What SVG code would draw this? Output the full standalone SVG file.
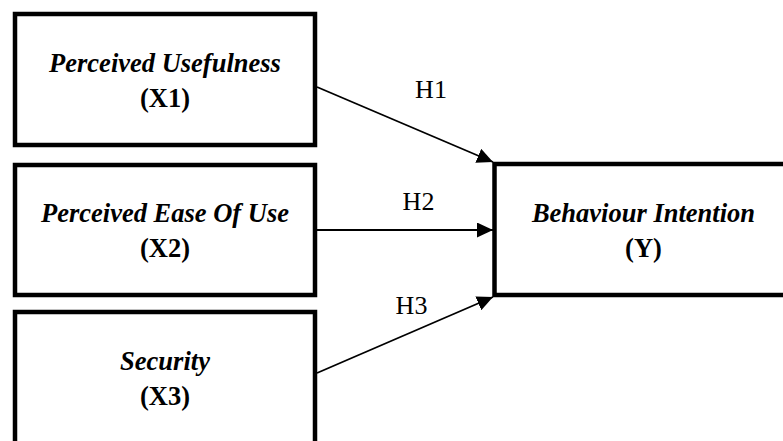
<svg xmlns="http://www.w3.org/2000/svg" width="783" height="441" viewBox="0 0 783 441">
<style>
.box{fill:#fff;stroke:#000;stroke-width:4.5}
.t{font-family:"Liberation Serif","Times New Roman",serif;font-size:26.5px;font-weight:700;text-anchor:middle;fill:#000}
.ti{font-style:italic}
.h{font-family:"Liberation Serif","Times New Roman",serif;font-size:26px;fill:#000;text-anchor:middle}
.c{stroke:#000;stroke-width:1.8;fill:none}
</style>
<defs>
<marker id="arr" markerUnits="userSpaceOnUse" markerWidth="17" markerHeight="15" refX="16" refY="7.5" orient="auto">
<path d="M0,0 L16,7.5 L0,15 Z" fill="#000"/>
</marker>
</defs>
<rect width="783" height="441" fill="#fff"/>
<g id="x1">
<rect class="box" x="15" y="14" width="300" height="131"/>
<text class="t ti" x="165" y="72">Perceived Usefulness</text>
<text class="t" x="165" y="107">(X1)</text>
</g>
<g id="x2">
<rect class="box" x="15" y="165" width="300" height="130"/>
<text class="t ti" x="165" y="222">Perceived Ease Of Use</text>
<text class="t" x="165" y="257">(X2)</text>
</g>
<g id="x3">
<rect class="box" x="15" y="312" width="300" height="140"/>
<text class="t ti" x="165" y="370">Security</text>
<text class="t" x="165" y="405">(X3)</text>
</g>
<g id="y">
<rect class="box" x="494.5" y="164" width="300" height="131"/>
<text class="t ti" x="643.5" y="222">Behaviour Intention</text>
<text class="t" x="643.5" y="257">(Y)</text>
</g>
<g id="connectors">
<line class="c" x1="317" y1="87" x2="493" y2="162" marker-end="url(#arr)"/>
<line class="c" x1="317" y1="230" x2="493" y2="230" marker-end="url(#arr)"/>
<line class="c" x1="317" y1="373" x2="493" y2="297" marker-end="url(#arr)"/>
<text class="h" x="431" y="98">H1</text>
<text class="h" x="418.5" y="210">H2</text>
<text class="h" x="411.5" y="314">H3</text>
</g>
</svg>
